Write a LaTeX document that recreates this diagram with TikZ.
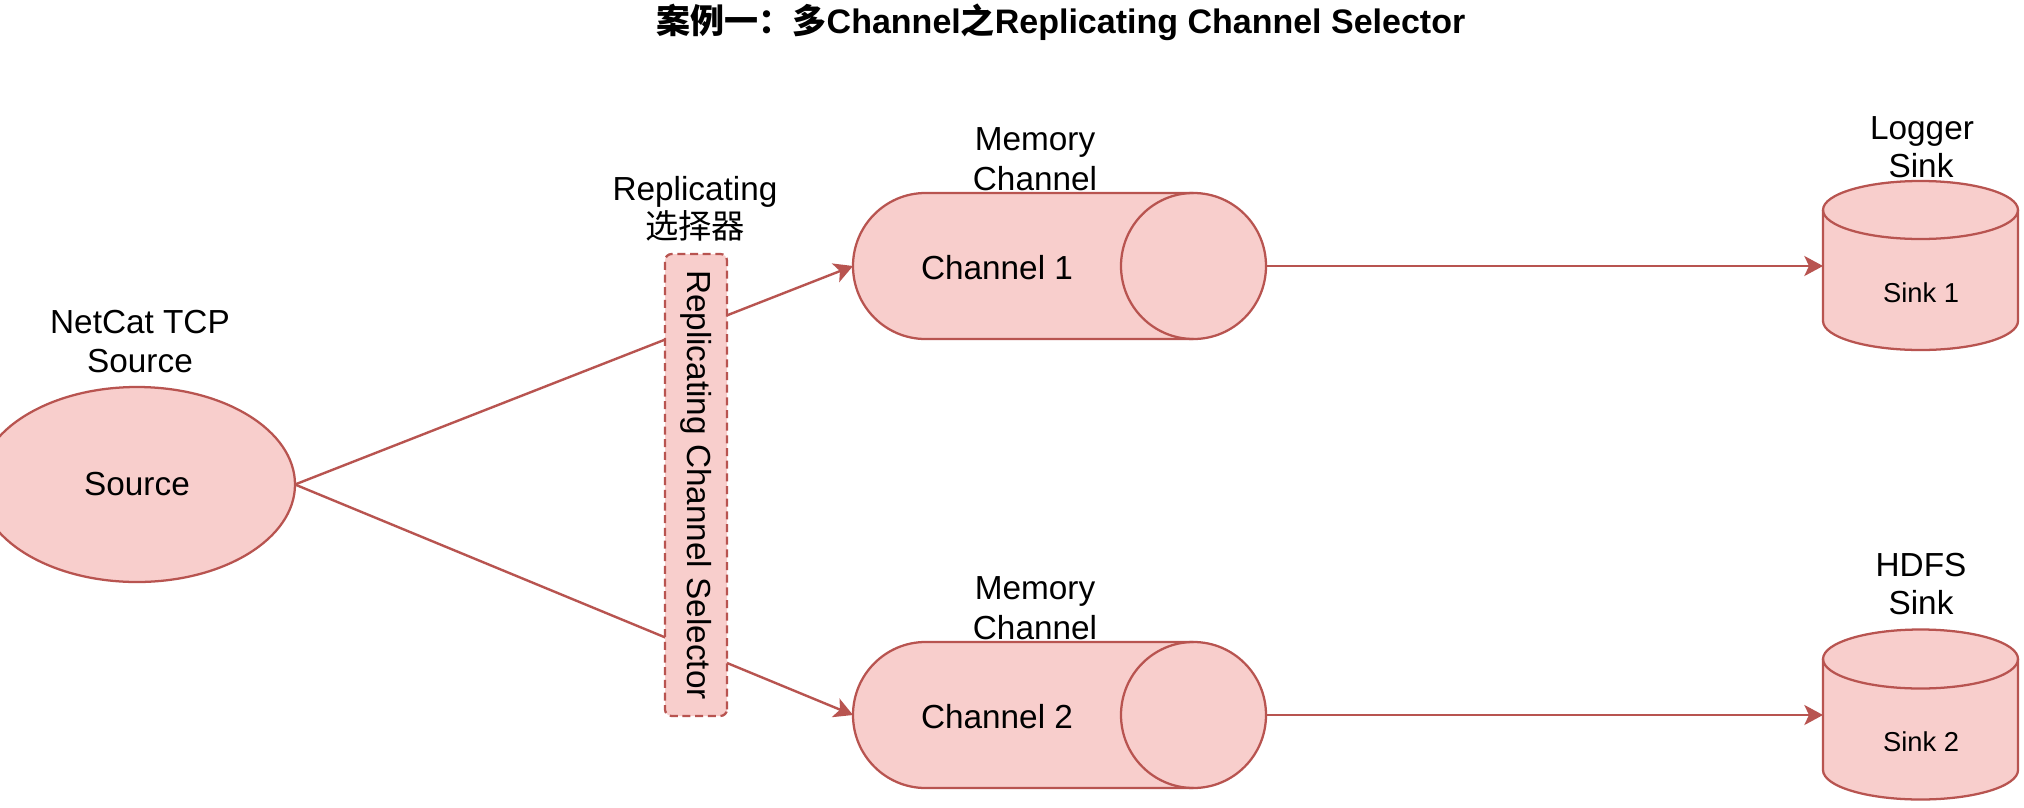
\documentclass[tikz,border=0pt]{standalone}
\usepackage{fontspec}
\setmainfont{Liberation Sans}
\newfontfamily\cjk{Noto Sans CJK SC}
\usetikzlibrary{shapes.geometric,arrows.meta}
\definecolor{pinkfill}{HTML}{F8CECC}
\definecolor{reddraw}{HTML}{B85450}
\begin{document}
\begin{tikzpicture}[x=0.75pt,y=0.75pt,
  shapestyle/.style={draw=reddraw, fill=pinkfill, line width=1.7pt},
  edgeline/.style={draw=reddraw, line width=1.7pt},
  conn/.style={draw=reddraw, line width=1.8pt, -{Stealth[length=14pt,width=15pt,inset=3.5pt]}},
  txt/.style={font=\fontsize{25}{30}\selectfont, inner sep=0pt},
  lbl/.style={txt, anchor=base},
  small/.style={font=\fontsize{20.5}{24}\selectfont, inner sep=0pt},
  ghost/.style={inner sep=0pt, outer sep=0pt, draw=none}]
\useasboundingbox (0,0) rectangle (2024,-807);
\fill[white] (0,0) rectangle (2024,-807);

% title
\node[anchor=base, inner sep=0pt, font=\fontsize{25.5}{30}\selectfont\bfseries] (title) at (1061,-33)
  {{\cjk\bfseries 案例一：多}Channel{\cjk\bfseries 之}Replicating Channel Selector};

% source
\node[shapestyle, ellipse, minimum width=237pt, minimum height=146.25pt, inner sep=0pt, outer sep=0pt, txt] (src) at (137,-484.5) {Source};
\node[lbl] (srclbl1) at (140,-333) {NetCat TCP};
\node[lbl] (srclbl2) at (140,-372) {Source};

% channel 1
\path[shapestyle] (925.5,-193) -- (1193.5,-193)
  arc[start angle=90, end angle=-90, x radius=72.5, y radius=73]
  -- (925.5,-339)
  arc[start angle=270, end angle=90, x radius=72.5, y radius=73] -- cycle;
\draw[edgeline] (1193.5,-193) arc[start angle=90, end angle=270, x radius=72.5, y radius=73];
\node[ghost, minimum width=309.75pt, minimum height=109.5pt] (ch1) at (1059.5,-266) {};
\node[txt] (ch1txt) at (997,-268) {Channel 1};
\node[lbl] (ch1lbl1) at (1035,-150) {Memory};
\node[lbl] (ch1lbl2) at (1035,-190) {Channel};

% channel 2
\path[shapestyle] (925.5,-642) -- (1193.5,-642)
  arc[start angle=90, end angle=-90, x radius=72.5, y radius=73]
  -- (925.5,-788)
  arc[start angle=270, end angle=90, x radius=72.5, y radius=73] -- cycle;
\draw[edgeline] (1193.5,-642) arc[start angle=90, end angle=270, x radius=72.5, y radius=73];
\node[ghost, minimum width=309.75pt, minimum height=109.5pt] (ch2) at (1059.5,-715) {};
\node[txt] (ch2txt) at (997,-717) {Channel 2};
\node[lbl] (ch2lbl1) at (1035,-599) {Memory};
\node[lbl] (ch2lbl2) at (1035,-639) {Channel};

% sink 1
\path[shapestyle] (1823,-210) -- (1823,-321)
  arc[start angle=180, end angle=360, x radius=97.5, y radius=29]
  -- (2018,-210)
  arc[start angle=0, end angle=180, x radius=97.5, y radius=29] -- cycle;
\draw[edgeline] (1823,-210) arc[start angle=180, end angle=360, x radius=97.5, y radius=29];
\node[ghost, minimum width=146.25pt, minimum height=126.75pt] (sk1) at (1920.5,-265.5) {};
\node[small] (sk1txt) at (1921,-292.5) {Sink 1};
\node[lbl] (sk1lbl1) at (1922,-139) {Logger};
\node[lbl] (sk1lbl2) at (1921,-177) {Sink};

% sink 2
\path[shapestyle] (1823,-659) -- (1823,-770)
  arc[start angle=180, end angle=360, x radius=97.5, y radius=29.5]
  -- (2018,-659)
  arc[start angle=0, end angle=180, x radius=97.5, y radius=29.5] -- cycle;
\draw[edgeline] (1823,-659) arc[start angle=180, end angle=360, x radius=97.5, y radius=29.5];
\node[ghost, minimum width=146.25pt, minimum height=126.75pt] (sk2) at (1920.5,-714.5) {};
\node[small] (sk2txt) at (1921,-741.5) {Sink 2};
\node[lbl] (sk2lbl1) at (1921,-576) {HDFS};
\node[lbl] (sk2lbl2) at (1921,-614) {Sink};

% connectors
\draw[conn] (src.east) -- (ch1.west);
\draw[conn] (src.east) -- (ch2.west);
\draw[conn] (ch1.east) -- (ch1.east -| sk1.west);
\draw[conn] (ch2.east) -- (ch2.east -| sk2.west);

% selector (drawn over the lines)
\node[shapestyle, dashed, dash pattern=on 6pt off 3.5pt, rounded corners=5pt, rotate=-90,
  minimum width=346.5pt, minimum height=46.5pt, inner sep=0pt, txt] (sel) at (696,-485)
  {Replicating Channel Selector};
\node[lbl] (sellbl1) at (695,-200) {Replicating};
\node[lbl, font=\fontsize{25}{30}\selectfont\cjk] (sellbl2) at (695,-238) {选择器};
\end{tikzpicture}
\end{document}
